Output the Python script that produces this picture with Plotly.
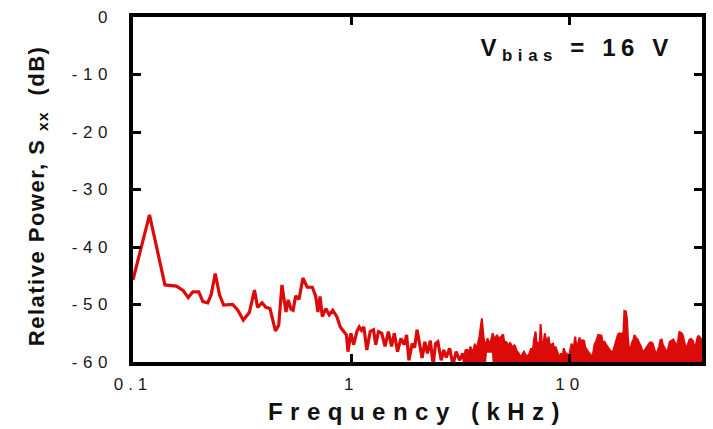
import plotly.graph_objects as go

# ---- data (frequency in kHz, power in dB) ----
# low-frequency part, drawn as a line
freq_line = [0.100, 0.119, 0.140, 0.158, 0.170, 0.179, 0.188, 0.200, 0.209, 0.220,
             0.228, 0.238, 0.249, 0.260, 0.286, 0.302, 0.320, 0.341, 0.360, 0.372,
             0.390, 0.406, 0.424, 0.449, 0.465, 0.481, 0.502, 0.514, 0.529, 0.541,
             0.556, 0.576, 0.600, 0.628, 0.663, 0.687, 0.703, 0.719, 0.736, 0.764,
             0.792, 0.822, 0.858, 0.890, 0.923, 0.950, 0.965, 0.995, 1.024, 1.060,
             1.087, 1.114, 1.141, 1.177, 1.220, 1.263, 1.294, 1.331, 1.378, 1.427,
             1.477, 1.529, 1.573, 1.628, 1.687, 1.747, 1.791, 1.835, 1.899, 1.950,
             2.000, 2.050, 2.109, 2.170, 2.230, 2.300, 2.370, 2.430, 2.490, 2.580,
             2.650, 2.720, 2.820, 2.920, 3.020, 3.130, 3.240, 3.320, 3.350]
power_line = [-45.7, -34.4, -46.6, -46.8, -47.6, -48.8, -47.8, -47.8, -49.5, -49.7,
              -48.3, -44.6, -48.3, -50.1, -50.0, -51.0, -52.7, -51.4, -47.5, -50.5,
              -49.7, -50.5, -50.7, -54.6, -53.6, -46.6, -51.3, -49.2, -50.8, -51.0,
              -48.5, -49.1, -45.4, -47.0, -47.0, -48.6, -51.3, -48.6, -52.1, -50.7,
              -51.8, -51.0, -52.1, -53.9, -54.7, -55.3, -58.2, -55.0, -57.0, -54.7,
              -53.9, -54.5, -53.9, -57.9, -54.7, -54.4, -57.0, -54.7, -55.0, -57.3,
              -54.7, -57.3, -55.0, -58.2, -55.9, -57.0, -55.3, -59.7, -56.8, -57.5,
              -54.4, -56.8, -59.3, -56.5, -58.5, -56.3, -60.5, -56.8, -56.5, -59.7,
              -57.9, -59.2, -57.6, -60.5, -58.2, -59.7, -58.5, -60.5, -57.9]

# high-frequency part: dense spectrum, drawn as the band between its lower and upper envelope
freq_upper = [3.24, 3.32, 3.35, 3.41, 3.46, 3.51, 3.60, 3.68, 3.74, 3.79,
              3.86, 3.96, 4.03, 4.11, 4.20, 4.31, 4.38, 4.44, 4.54, 4.64,
              4.75, 4.84, 4.96, 5.03, 5.10, 5.19, 5.26, 5.33, 5.46, 5.59,
              5.71, 5.85, 5.96, 6.08, 6.17, 6.34, 6.50, 6.66, 6.76, 6.86,
              6.98, 7.08, 7.16, 7.28, 7.36, 7.45, 7.52, 7.69, 7.86, 8.01,
              8.12, 8.22, 8.40, 8.50, 8.61, 8.82, 8.92, 9.13, 9.25, 9.40,
              9.55, 9.69, 9.83, 9.93, 10.05, 10.2, 10.4, 10.6, 10.75, 10.9,
              11.1, 11.25, 11.4, 11.64, 11.8, 11.97, 12.3, 12.6, 12.8, 13.0,
              13.2, 13.5, 13.74, 13.98, 14.2, 14.45, 14.7, 14.94, 15.2, 15.5,
              15.7, 15.9, 16.1, 16.4, 16.65, 16.9, 17.1, 17.4, 17.6, 17.8,
              18.1, 18.3, 18.5, 18.8, 19.05, 19.3, 19.55, 19.8, 20.1, 20.5,
              20.85, 21.2, 21.5, 21.9, 22.2, 22.6, 22.9, 23.3, 23.7, 24.0,
              24.3, 24.9, 25.3, 25.7, 26.0, 26.4, 26.7, 27.3, 28.0, 28.3,
              28.7, 29.3, 29.8, 30.3, 30.9, 31.3, 31.8, 32.3, 32.9, 33.5,
              34.2, 34.7, 35.4, 36.0, 36.6, 37.1, 37.7, 38.1, 38.6, 39.0,
              39.5, 40.0, 40.4]
power_upper = [-58.5, -59.5, -57.9, -57.9, -59.0, -57.3, -58.5, -56.8, -58.0, -57.0,
               -55.6, -52.4, -55.6, -57.5, -55.9, -57.0, -56.0, -55.0, -56.2, -55.3,
               -56.0, -55.7, -55.2, -57.0, -56.5, -56.8, -58.0, -56.6, -57.5, -57.0,
               -58.0, -58.5, -59.3, -58.6, -58.2, -59.0, -58.8, -57.6, -58.5, -56.2,
               -54.7, -57.5, -56.5, -57.0, -53.4, -56.5, -58.0, -55.0, -56.8, -55.6,
               -57.5, -57.0, -56.8, -58.2, -57.3, -58.5, -59.2, -58.5, -59.3, -57.6,
               -58.5, -58.5, -59.5, -59.0, -58.2, -56.8, -57.8, -55.6, -57.5, -57.0,
               -55.7, -57.2, -56.2, -56.3, -57.5, -57.9, -58.5, -59.0, -58.5, -56.9,
               -56.5, -55.3, -55.4, -55.4, -56.8, -56.5, -57.0, -57.3, -57.8, -58.2,
               -58.5, -57.8, -57.0, -55.7, -55.2, -55.0, -55.2, -55.0, -55.5, -51.1,
               -51.2, -52.6, -56.0, -58.5, -57.5, -56.6, -56.2, -55.3, -55.8, -56.1,
               -56.8, -57.3, -58.0, -58.2, -57.8, -57.3, -57.0, -56.6, -56.6, -56.8,
               -57.5, -58.8, -58.0, -57.3, -56.2, -56.1, -57.0, -57.6, -58.4, -57.5,
               -56.5, -56.3, -56.1, -56.6, -57.3, -56.5, -54.8, -54.9, -55.2, -56.5,
               -57.8, -57.0, -56.1, -56.0, -56.3, -57.0, -57.3, -56.5, -55.6, -55.5,
               -55.7, -56.0, -57.0]
freq_lower = [3.24, 4.12, 4.18, 4.40, 4.46, 40.4]
power_lower = [-61.0, -61.0, -58.4, -58.4, -61.0, -61.0]

x_ticks = [0.1, 1, 10]
x_tick_labels = ["0.1", "1", "10"]
y_ticks = [0, -10, -20, -30, -40, -50, -60]
y_tick_labels = ["0", "-10", "-20", "-30", "-40", "-50", "-60"]

red = "#dd0a0a"
fig = go.Figure()
fig.add_trace(go.Scatter(
    x=freq_line, y=power_line, mode="lines",
    line=dict(color=red, width=3.2), showlegend=False,
))
fig.add_trace(go.Scatter(
    x=freq_lower, y=power_lower, mode="lines",
    line=dict(color=red, width=0), showlegend=False, hoverinfo="skip",
))
fig.add_trace(go.Scatter(
    x=freq_upper, y=power_upper, mode="lines", fill="tonexty", fillcolor=red,
    line=dict(color=red, width=2), showlegend=False,
))

font_family = "Liberation Sans, Arial, sans-serif"
axis_common = dict(
    showline=True, linecolor="black", linewidth=3.5, mirror="ticks",
    ticks="inside", ticklen=8, tickwidth=3, tickcolor="black",
    showgrid=False, zeroline=False,
)

fig.update_layout(
    width=713, height=429,
    margin=dict(l=133, r=7, t=17, b=67),
    plot_bgcolor="white", paper_bgcolor="white",
    xaxis=dict(
        type="log", range=[-1, 1.606],
        tickvals=x_ticks, ticktext=x_tick_labels,
        ticklabelstandoff=4,
        tickfont=dict(family=font_family, size=17, color="#1a1a1a"),
        title=dict(text="<b>Frequency (kHz)</b>", standoff=11,
                   font=dict(family=font_family, size=24, color="#111111")),
        **axis_common,
    ),
    yaxis=dict(
        range=[-60, 0],
        tickvals=y_ticks, ticktext=y_tick_labels,
        ticklabelstandoff=13,
        tickfont=dict(family=font_family, size=17, color="#1a1a1a"),
        **axis_common,
    ),
    annotations=[
        dict(
            text="<b>V<sub>bias</sub> = 16 V</b>",
            xref="paper", yref="paper", x=0.781, y=0.905, xanchor="center", yanchor="middle",
            showarrow=False,
            font=dict(family=font_family, size=24, color="#111111"),
        ),
        dict(
            text="<b>Relative Power, S&nbsp;<sub>xx</sub>&nbsp; (dB)</b>",
            xref="paper", yref="paper", x=-0.1675, y=0.481, xanchor="center", yanchor="middle",
            textangle=-90, showarrow=False,
            font=dict(family=font_family, size=22, color="#111111"),
        ),
    ],
)

spacing_js = """
var gd = document.getElementById('{plot_id}');
function sp(sel, v) { gd.querySelectorAll(sel).forEach(function (t) { t.style.letterSpacing = v; }); }
sp('.xtick text', '5px');
sp('.ytick text', '5.5px');
sp('.xtitle', '7.5px');
sp('.annotation[data-index="0"] .annotation-text', '5.6px');
sp('.annotation[data-index="1"] .annotation-text', '1.5px');
"""

fig.write_html("out.html", post_script=spacing_js)
